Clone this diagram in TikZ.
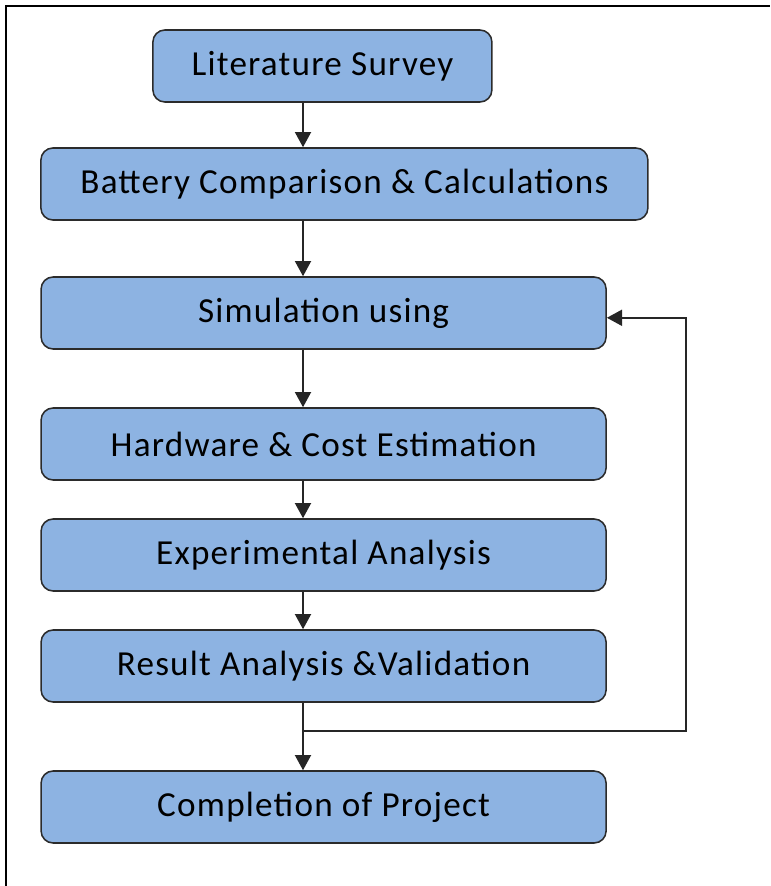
\documentclass[tikz,border=0pt]{standalone}
\usepackage{fontspec}
\setmainfont{Carlito}[LetterSpace=3.5]
\usepackage{xcolor}
\usepackage{tikz}
\usetikzlibrary{shapes, arrows.meta, positioning, calc}

\definecolor{stagefill}{HTML}{8DB3E2}
\definecolor{stageline}{HTML}{2B2B2B}

\begin{document}
\begin{tikzpicture}[
    stage/.style={draw=stageline, rectangle, rounded corners=0.3cm, minimum height=1.8cm,
                  line width=1.1pt, fill=stagefill, align=center, inner sep=0pt,
                  font=\fontsize{25}{29}\selectfont},
    arr/.style={-{Triangle[length=0.38cm, width=0.4cm]}, line width=1.4pt, draw=black!85},
    frame/.style={line width=1.6pt}
]
\useasboundingbox (0,0) rectangle (19.25,-22.15);
\draw[frame] (0.15,-22.15) -- (0.15,-0.15) -- (19.25,-0.15);

% Stages
\node[stage, minimum width=8.475cm] (lit) at (8.06, -1.65) {Literature Survey};
\node[stage, minimum width=15.175cm] (bat) at (8.61, -4.6) {Battery Comparison \& Calculations};
\node[stage, minimum width=14.125cm] (sim) at (8.09, -7.825) {Simulation using};
\node[stage, minimum width=14.125cm] (hw) at (8.09, -11.1) {Hardware \& Cost Estimation};
\node[stage, minimum width=14.125cm] (exp) at (8.09, -13.875) {Experimental Analysis};
\node[stage, minimum width=14.125cm] (res) at (8.09, -16.65) {Result Analysis \&Validation};
\node[stage, minimum width=14.125cm] (comp) at (8.09, -20.175) {Completion of Project};

% Flow
\coordinate (spine) at (7.575, 0);
\draw[arr] (lit.south -| spine) -- (bat.north -| spine);
\draw[arr] (bat.south -| spine) -- (sim.north -| spine);
\draw[arr] (sim.south -| spine) -- (hw.north -| spine);
\draw[arr] (hw.south -| spine) -- (exp.north -| spine);
\draw[arr] (exp.south -| spine) -- (res.north -| spine);
\draw[arr] (res.south -| spine) -- (comp.north -| spine);

% Feedback
\coordinate (fb) at ($(res.south -| spine)+(0,-0.7)$);
\draw[arr] (fb) -- ++(9.575,0) |- ([yshift=-0.12cm]sim.east);
\end{tikzpicture}
\end{document}
